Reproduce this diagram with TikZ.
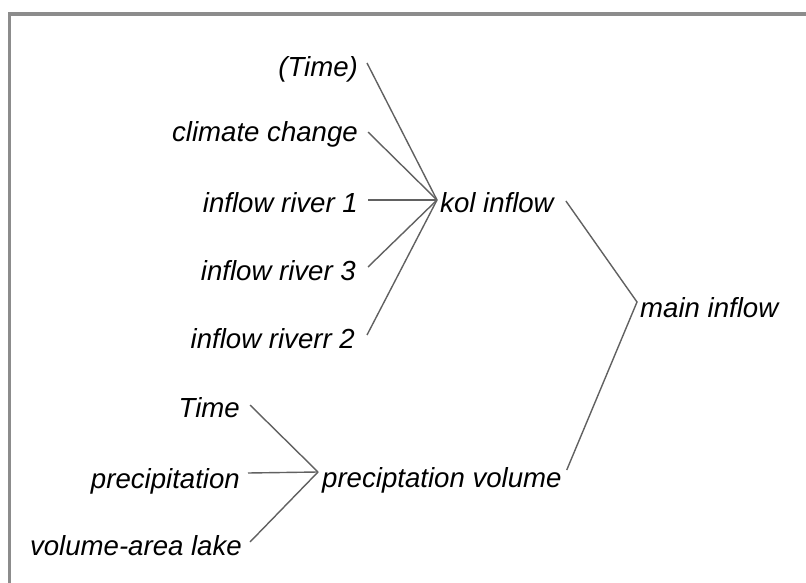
\documentclass[tikz,border=0pt]{standalone}
\usepackage{fontspec}
\setmainfont{Liberation Sans}
\begin{document}
\begin{tikzpicture}[x=1pt,y=-1pt,
  lbl/.style={inner sep=0pt,font=\fontsize{27.6}{33}\selectfont\itshape},
  src/.style={lbl,anchor=base east},
  dst/.style={lbl,anchor=base west},
  link/.style={draw=black!62,line width=1.4pt}]
\useasboundingbox (0,0) rectangle (806,583);
\fill[white] (0,0) rectangle (806,583);
\begin{scope}
\clip (0,0) rectangle (806,583);
\draw[draw=black!45,line width=3.5pt] (9.5,14) rectangle (830,610);
\end{scope}
% nodes
\node[src] (t1) at (358,77) {(Time)};
\node[src] (cc) at (358,142) {climate change};
\node[src] (r1) at (358,212) {inflow river 1};
\node[src] (r3) at (356,280) {inflow river 3};
\node[src] (r2) at (355,348) {inflow riverr 2};
\node[dst] (kol) at (440,212) {kol inflow};
\node[dst] (main) at (640,317) {main inflow};
\node[src] (t2) at (240,417) {Time};
\node[src] (pr) at (240,488) {precipitation};
\node[src] (vl) at (242,555) {volume-area lake};
\node[dst] (pv) at (322,487) {preciptation volume};
% junction points
\coordinate (kv) at ([shift={(-3,-12)}]kol.base west);
\coordinate (mv) at ([shift={(-3,-15)}]main.base west);
\coordinate (pvv) at ([shift={(-4,-15)}]pv.base west);
% connectors
\draw[link] ([shift={(9,-14)}]t1.base east) -- (kv);
\draw[link] ([shift={(10,-10)}]cc.base east) -- (kv);
\draw[link] ([shift={(10,-12)}]r1.base east) -- (kv);
\draw[link] ([shift={(12,-13)}]r3.base east) -- (kv);
\draw[link] ([shift={(12,-13)}]r2.base east) -- (kv);
\draw[link] ([shift={(12,-11)}]kol.base east) -- (mv) -- ([shift={(5,-17)}]pv.base east);
\draw[link] ([shift={(10,-12)}]t2.base east) -- (pvv);
\draw[link] ([shift={(8,-15)}]pr.base east) -- (pvv);
\draw[link] ([shift={(8,-13)}]vl.base east) -- (pvv);
\end{tikzpicture}
\end{document}
